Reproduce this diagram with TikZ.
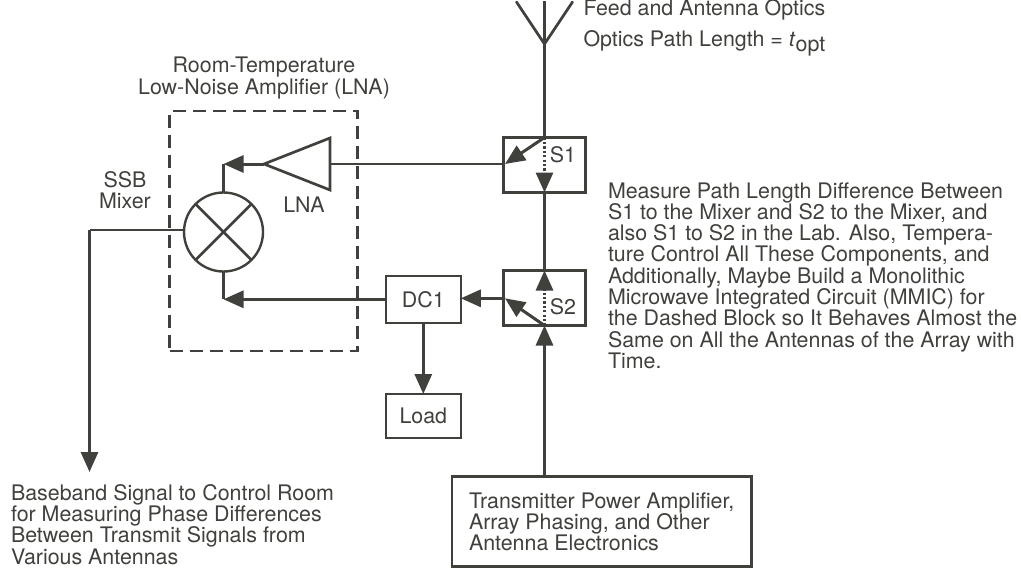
\documentclass[tikz,border=0pt]{standalone}
\usepackage{fontspec}
\setmainfont{TeX Gyre Heros}
\usetikzlibrary{arrows.meta}
\definecolor{ink}{HTML}{40403C}
\newcommand{\txt}{\fontsize{21.4}{21.3}\selectfont}
\tikzset{
  x=1pt,y=-1pt,
  every node/.style={text=ink,inner sep=0pt,outer sep=0pt},
  wire/.style={draw=ink,line width=3pt},
  thin wire/.style={draw=ink,line width=2.7pt},
  head/.style={-{Triangle[length=20pt,width=17pt,color=ink]}},
  dotline/.style={draw=ink,line width=3pt,dash pattern=on 2.2pt off 2.2pt},
  boxed/.style={draw=ink,line width=2.6pt,fill=white,align=center},
  label/.style={font=\txt,align=left,anchor=north west},
  clabel/.style={font=\txt,align=center},
}
\begin{document}
\begin{tikzpicture}
\useasboundingbox (0,0) rectangle (1021,573);
% dashed block
\node[draw=ink,line width=2.4pt,dash pattern=on 13pt off 7pt,minimum width=188pt,minimum height=240pt] (block) at (263.6,231) {};
% boxes
\node[boxed,minimum width=82pt,minimum height=55pt] (s1) at (544.5,165) {};
\node[boxed,minimum width=82pt,minimum height=55pt] (s2) at (544.5,298) {};
\node[boxed,minimum width=75pt,minimum height=47pt,font=\txt] (dc1) at (423.3,299.5) {DC1};
\node[boxed,minimum width=75pt,minimum height=44pt,font=\txt] (load) at (423.3,416) {Load};
\node[boxed,minimum width=299.5pt,minimum height=90pt] (tx) at (601.8,521.7) {};
\node[draw=ink,line width=2.4pt,circle,minimum size=79pt] (mixer) at (223.5,232) {};
% coordinates
\coordinate (anttop) at (544.5,1);
\coordinate (antbase) at (544.5,44);
\coordinate (antl) at (516.5,2);
\coordinate (antr) at (572.5,2);
\coordinate (s1tap) at (505,164);
\coordinate (s2tap) at (505,298.3);
\coordinate (lnatip) at (264,164);
\coordinate (lnat) at (330,138);
\coordinate (lnab) at (330,190);
\coordinate (lnain) at (330,164);
\coordinate (mixtop) at (223.5,164);
\coordinate (mixbot) at (223.5,299.3);
\coordinate (bbcorner) at (89.5,230);
\coordinate (bbend) at (89.5,472);
\coordinate (s1dot) at (544.5,174);
\coordinate (s2dot) at (544.5,291);
% antenna
\draw[wire] (anttop) -- (s1.north);
\draw[thin wire,line cap=round] (antl) -- (antbase) -- (antr);
% switches
\draw[dotline] (s1.north) -- (s1dot);
\draw[dotline,head] (s1dot) -- (s1.south);
\draw[wire,head] (s1.north) -- (s1tap);
\draw[dotline] (s2.south) -- (s2dot);
\draw[dotline,head] (s2dot) -- (s2.north);
\draw[wire,head] (s2.south) -- (s2tap);
\draw[wire] (s1.south) -- (s2.north);
% signal path
\draw[thin wire] (s1tap) -- (lnain);
\draw[thin wire,line join=miter] (lnatip) -- (lnat) -- (lnab) -- cycle;
\draw[wire,head] (lnatip) -- (mixtop);
\draw[thin wire] (mixtop) -- (mixer.north);
\draw[wire,head] (mixbot -| dc1.west) -- (mixbot);
\draw[thin wire] (mixbot) -- (mixer.south);
\draw[wire,head] (s2tap) -- (s2tap -| dc1.east);
\draw[wire,head] (dc1.south) -- (load.north);
\draw[wire,head] (tx.north -| s2.south) -- (s2.south);
\draw[thin wire] (bbcorner -| mixer.west) -- (bbcorner);
\draw[wire,head] (bbcorner) -- (bbend);
\draw[thin wire] (mixer.45) -- (mixer.225);
\draw[thin wire] (mixer.135) -- (mixer.315);
% labels
\node[clabel] (s1lab) at (563,155) {S1};
\node[clabel] (s2lab) at (563,307) {S2};
\node[clabel] (lnalab) at (304,205) {LNA};
\node[clabel] (ssb) at (125,190) {SSB\\Mixer};
\node[clabel] (room) at (264,78) {Room-Temperature\\Low-Noise Amplifier (LNA)};
\node[label] (feed) at (583.5,-0.6) {Feed and Antenna Optics};
\node[label] (path) at (583.5,31) {Optics Path Length = \textit{t}\raisebox{-5pt}{opt}};
\node[label] (meas) at (608,182.4) {Measure Path Length Difference Between\\S1 to the Mixer and S2 to the Mixer, and\\also S1 to S2 in the Lab. Also, Tempera-\\ture Control All These Components, and\\Additionally, Maybe Build a Monolithic\\Microwave Integrated Circuit (MMIC) for\\the Dashed Block so It Behaves Almost the\\Same on All the Antennas of the Array with\\Time.};
\node[label] (base) at (11,484.4) {Baseband Signal to Control Room\\for Measuring Phase Differences\\Between Transmit Signals from\\Various Antennas};
\node[label] (txlab) at (469,492.4) {Transmitter Power Amplifier,\\Array Phasing, and Other\\Antenna Electronics};
\end{tikzpicture}
\end{document}
